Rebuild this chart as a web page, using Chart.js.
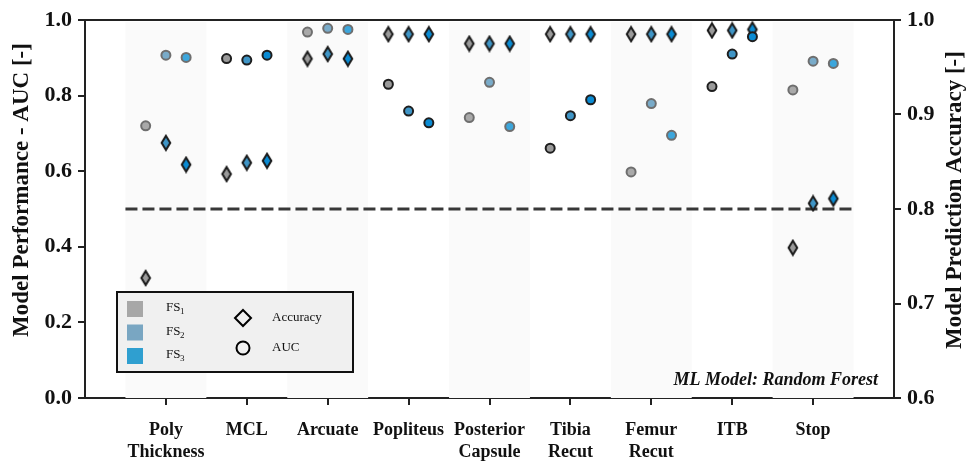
<!DOCTYPE html>
<html>
<head>
<meta charset="utf-8">
<script src="https://cdn.jsdelivr.net/npm/chart.js@4"></script>
<style>
  body { margin: 0; background: #fff; }
  #wrap { width: 966px; height: 462px; position: relative; }
</style>
</head>
<body>
<div id="wrap"><canvas id="perfChart"></canvas></div>
<script>
const categories = ["Poly Thickness", "MCL", "Arcuate", "Popliteus", "Posterior Capsule",
                    "Tibia Recut", "Femur Recut", "ITB", "Stop"];
const catLabels = [["Poly", "Thickness"], "MCL", "Arcuate", "Popliteus", ["Posterior", "Capsule"],
                   ["Tibia", "Recut"], ["Femur", "Recut"], "ITB", "Stop"];

const aucFS1 = [0.720, 0.898, 0.968, 0.830, 0.742, 0.661, 0.598, 0.824, 0.815];
const aucFS2 = [0.907, 0.894, 0.978, 0.759, 0.835, 0.747, 0.779, 0.910, 0.891];
const aucFS3 = [0.901, 0.907, 0.975, 0.728, 0.718, 0.789, 0.695, 0.956, 0.885];

const accFS1 = [0.727, 0.837, 0.959, 0.985, 0.975, 0.985, 0.985, 0.989, 0.759];
const accFS2 = [0.870, 0.849, 0.964, 0.985, 0.975, 0.985, 0.985, 0.989, 0.806];
const accFS3 = [0.847, 0.851, 0.959, 0.985, 0.975, 0.985, 0.985, 0.990, 0.811];

const aucTicks = [0, 0.2, 0.4, 0.6, 0.8, 1.0];
const accTicks = [0.6, 0.7, 0.8, 0.9, 1.0];
const chanceAUC = 0.5;

const SERIF = '"Liberation Serif", "Times New Roman", serif';
const fsStrong = ["#9a9a9a", "#3f95c6", "#0a8bd3"];
const fsLight = ["#a9a9a9", "#79abc9", "#3ca6dc"];
const legendSwatch = ["#a7a7a7", "#79a6c2", "#2f9fd0"];
const offsets = [-0.25, 0, 0.25];

function diamondImg(fill) {
  const c = document.createElement("canvas");
  c.width = 14; c.height = 18;
  const g = c.getContext("2d");
  g.beginPath();
  g.moveTo(7, 2); g.lineTo(11.3, 9); g.lineTo(7, 16); g.lineTo(2.7, 9);
  g.closePath();
  g.fillStyle = fill; g.fill();
  g.lineWidth = 2; g.strokeStyle = "#1a1a1a"; g.stroke();
  return c;
}

const shaded = i => i % 2 === 0;

function circleSet(vals, k) {
  return {
    label: "AUC FS" + (k + 1),
    data: vals.map((v, i) => ({ x: i + offsets[k], y: v })),
    yAxisID: "yL",
    pointStyle: "circle",
    pointRadius: 4.5,
    pointBorderWidth: 2,
    pointBackgroundColor: vals.map((v, i) => shaded(i) ? fsLight[k] : fsStrong[k]),
    pointBorderColor: vals.map((v, i) => shaded(i) ? "#6e6e6e" : "#1e1e1e"),
    showLine: false
  };
}

function diamondSet(vals, k) {
  return {
    label: "Accuracy FS" + (k + 1),
    data: vals.map((v, i) => ({ x: i + offsets[k], y: v })),
    yAxisID: "yR",
    pointStyle: diamondImg(fsStrong[k]),
    pointRadius: 6,
    showLine: false
  };
}

const datasets = [
  circleSet(aucFS1, 0), circleSet(aucFS2, 1), circleSet(aucFS3, 2),
  diamondSet(accFS1, 0), diamondSet(accFS2, 1), diamondSet(accFS3, 2),
  {
    type: "line",
    label: "chance",
    data: [{ x: -0.5, y: chanceAUC }, { x: categories.length - 0.5, y: chanceAUC }],
    yAxisID: "yL",
    borderColor: "#383838",
    borderWidth: 3,
    borderDash: [12, 5],
    pointRadius: 0
  }
];

const decor = {
  id: "decor",
  beforeDatasetsDraw(chart) {
    const { ctx, chartArea, scales } = chart;
    const x = scales.x;
    ctx.save();
    ctx.fillStyle = "#fafafa";
    categories.forEach((c, i) => {
      if (!shaded(i)) return;
      const a = x.getPixelForValue(i - 0.5), b = x.getPixelForValue(i + 0.5);
      ctx.fillRect(a, chartArea.top + 2, b - a, chartArea.bottom - chartArea.top - 2);
    });
    ctx.restore();
  },
  afterDraw(chart) {
    const { ctx, chartArea } = chart;
    ctx.save();
    // top spine
    ctx.strokeStyle = "#222";
    ctx.lineWidth = 2;
    ctx.beginPath();
    ctx.moveTo(chartArea.left - 1, chartArea.top);
    ctx.lineTo(chartArea.right + 1, chartArea.top);
    ctx.stroke();

    // axis titles
    ctx.fillStyle = "#111";
    ctx.font = "bold 23px " + SERIF;
    ctx.textAlign = "center";
    ctx.textBaseline = "middle";
    ctx.save();
    ctx.translate(22, 190);
    ctx.rotate(-Math.PI / 2);
    ctx.fillText("Model Performance - AUC [-]", 0, 0);
    ctx.restore();
    ctx.save();
    ctx.translate(955, 200);
    ctx.rotate(-Math.PI / 2);
    ctx.fillText("Model Prediction Accuracy [-]", 0, 0);
    ctx.restore();

    // model annotation
    ctx.font = "italic bold 18px " + SERIF;
    ctx.textAlign = "right";
    ctx.textBaseline = "alphabetic";
    ctx.fillText("ML Model: Random Forest", chartArea.right - 16, chartArea.bottom - 13);

    // legend box
    const lx = 117, ly = 292, lw = 236, lh = 80;
    ctx.fillStyle = "#f0f0f0";
    ctx.fillRect(lx, ly, lw, lh);
    ctx.strokeStyle = "#111";
    ctx.lineWidth = 2;
    ctx.strokeRect(lx, ly, lw, lh);
    ctx.textAlign = "left";
    ctx.textBaseline = "middle";
    for (let k = 0; k < 3; k++) {
      const cy = 309 + k * 23.5;
      ctx.fillStyle = legendSwatch[k];
      ctx.fillRect(127, cy - 8, 16, 16);
      ctx.fillStyle = "#111";
      ctx.font = "13px " + SERIF;
      ctx.fillText("FS", 166, cy - 1);
      ctx.font = "9px " + SERIF;
      ctx.fillText(String(k + 1), 180, cy + 3);
    }
    ctx.strokeStyle = "#000";
    ctx.lineWidth = 2;
    ctx.beginPath();
    ctx.moveTo(243, 310); ctx.lineTo(251, 318); ctx.lineTo(243, 326); ctx.lineTo(235, 318);
    ctx.closePath();
    ctx.stroke();
    ctx.beginPath();
    ctx.arc(243, 348, 6.5, 0, Math.PI * 2);
    ctx.stroke();
    ctx.fillStyle = "#111";
    ctx.font = "13px " + SERIF;
    ctx.fillText("Accuracy", 272, 318);
    ctx.fillText("AUC", 272, 348);
    ctx.restore();
  }
};

const tickFont = { family: SERIF, size: 22, weight: "bold" };

new Chart(document.getElementById("perfChart"), {
  type: "scatter",
  data: { datasets },
  options: {
    responsive: true,
    maintainAspectRatio: false,
    animation: false,
    layout: { padding: { top: 20, left: 0, right: 0, bottom: 0 } },
    plugins: { legend: { display: false }, tooltip: { enabled: false } },
    scales: {
      x: {
        type: "linear",
        min: -1,
        max: categories.length,
        afterBuildTicks: s => { s.ticks = categories.map((c, i) => ({ value: i })); },
        afterFit: s => { s.height = 64; },
        ticks: {
          callback: v => catLabels[v],
          font: { family: SERIF, size: 18, weight: "bold", lineHeight: 1.25 },
          color: "#111",
          padding: 14,
          maxRotation: 0,
          autoSkip: false
        },
        grid: { drawOnChartArea: false, tickLength: 7, color: "#222", lineWidth: 2 },
        border: { color: "#222", width: 2 }
      },
      yL: {
        position: "left",
        min: 0,
        max: 1,
        afterBuildTicks: s => { s.ticks = aucTicks.map(v => ({ value: v })); },
        afterFit: s => { s.width = 85; },
        ticks: { callback: v => v.toFixed(1), font: tickFont, color: "#111", padding: 6 },
        grid: { drawOnChartArea: false, tickLength: 7, color: "#222", lineWidth: 2 },
        border: { color: "#222", width: 2 }
      },
      yR: {
        position: "right",
        min: 0.6,
        max: 1.0,
        afterBuildTicks: s => { s.ticks = accTicks.map(v => ({ value: v })); },
        afterFit: s => { s.width = 72; },
        ticks: { callback: v => v.toFixed(1), font: tickFont, color: "#111", padding: 6 },
        grid: { drawOnChartArea: false, tickLength: 7, color: "#222", lineWidth: 2 },
        border: { color: "#222", width: 2 }
      }
    }
  },
  plugins: [decor]
});
</script>
</body>
</html>
